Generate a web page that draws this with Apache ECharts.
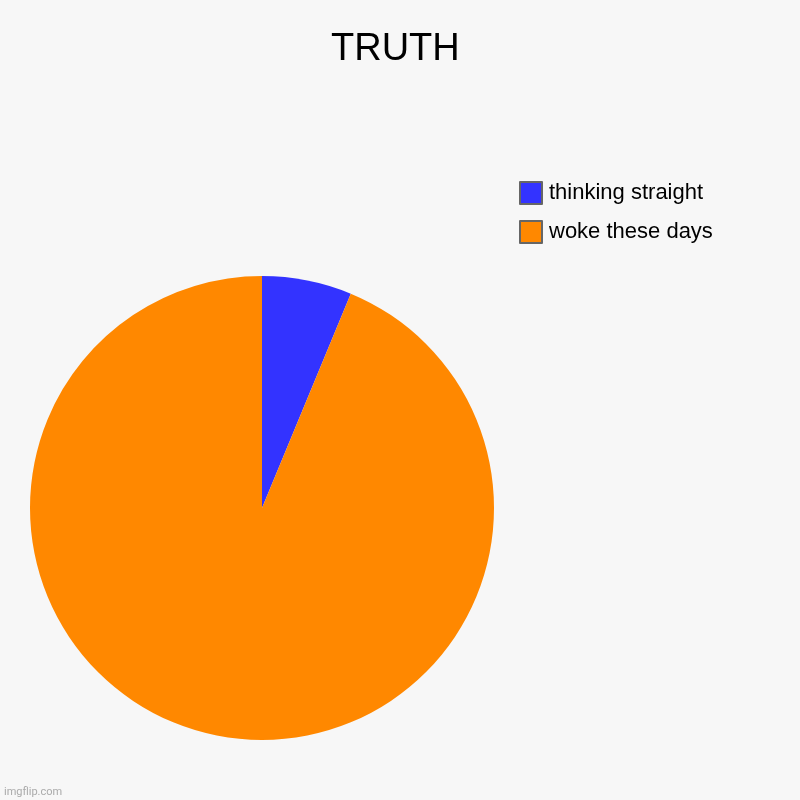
<!DOCTYPE html>
<html>
<head>
<meta charset="utf-8">
<script src="https://cdn.jsdelivr.net/npm/echarts@6/dist/echarts.min.js"></script>
<style>
  html, body { margin: 0; padding: 0; background: #f7f7f7; }
  #chart { width: 800px; height: 800px; }
</style>
</head>
<body>
<div id="chart"></div>
<script>
// slice names and values, in legend order
const categories = ['thinking straight', 'woke these days'];
const values = [1, 15];
const colors = ['#3333ff', '#ff8800'];

const chart = echarts.init(document.getElementById('chart'));

chart.setOption({
  backgroundColor: '#f7f7f7',
  animation: false,
  title: [{
    text: 'TRUTH',
    left: 326,
    top: 26,
    textStyle: { fontFamily: 'Liberation Sans', fontSize: 38, fontWeight: 'normal', color: '#000' }
  }, {
    text: 'imgflip.com',
    left: -1,
    bottom: -3,
    textStyle: { fontFamily: 'Roboto', fontSize: 11, fontWeight: 'normal', color: '#aaa' }
  }],
  legend: {
    orient: 'vertical',
    left: 514,
    top: 176,
    itemWidth: 22,
    itemHeight: 22,
    itemGap: 15,
    icon: 'rect',
    itemStyle: { borderColor: '#666', borderWidth: 2 },
    textStyle: { fontFamily: 'Liberation Sans', fontSize: 22, color: '#000', padding: [0, 0, 0, 2] },
    data: categories
  },
  series: [{
    type: 'pie',
    center: [262, 508],
    radius: 232,
    startAngle: 90,
    clockwise: true,
    label: { show: false },
    labelLine: { show: false },
    emphasis: { disabled: true },
    itemStyle: { borderWidth: 0 },
    data: categories.map(function (c, i) {
      return { name: c, value: values[i], itemStyle: { color: colors[i] } };
    })
  }]
});
</script>
</body>
</html>
